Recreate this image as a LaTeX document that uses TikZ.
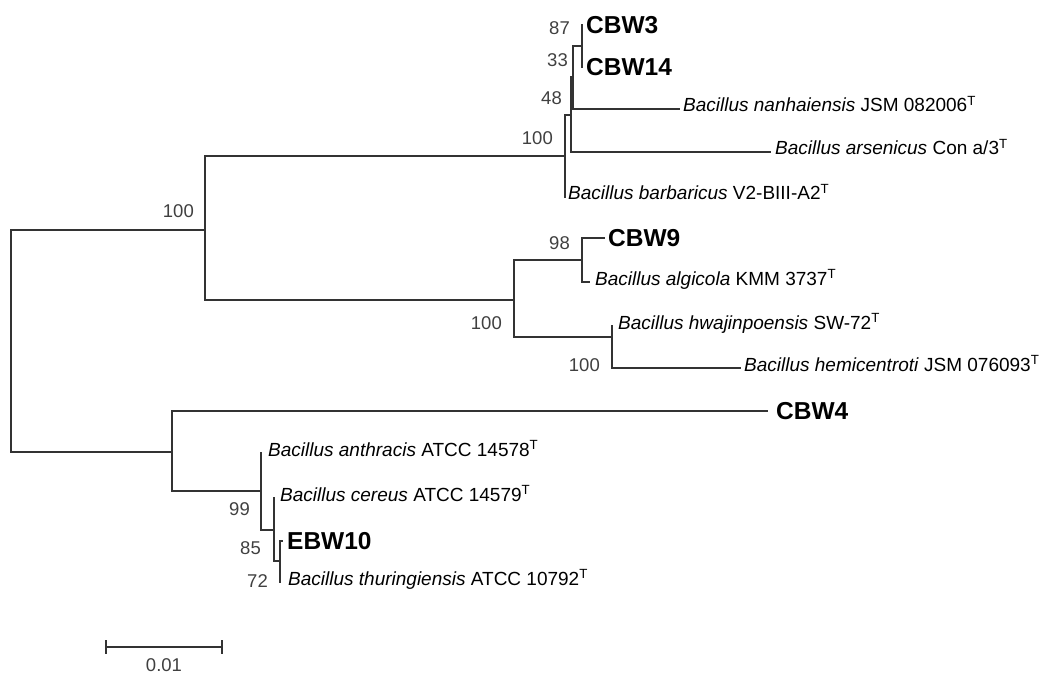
\documentclass[tikz,border=0pt]{standalone}
\usepackage{fontspec}
\setmainfont{Liberation Sans}
\usetikzlibrary{positioning}

\begin{document}
\begin{tikzpicture}[
  x=1pt, y=-1pt,
  branch/.style={draw=black!80, line width=1.2pt},
  taxon/.style={font=\fontsize{19}{21}\selectfont, inner sep=0pt,
    anchor=base west, yshift=-3pt},
  isolate/.style={font=\fontsize{24.5}{27}\selectfont\bfseries, inner sep=0pt,
    anchor=west},
  boot/.style={font=\fontsize{18.5}{20}\selectfont, text=black!75,
    inner sep=0pt, anchor=east},
]
  \useasboundingbox (0,0) rectangle (1047,674);

  % internal nodes
  \coordinate (root) at (11,341);
  \coordinate (nE) at (205,230);
  \coordinate (nA) at (565,156);
  \coordinate (nB) at (571,115);
  \coordinate (nC) at (573,77);
  \coordinate (nD) at (582,46);
  \coordinate (nF) at (514,300);
  \coordinate (nH) at (582,260);
  \coordinate (nG) at (612,337);
  \coordinate (nI) at (172,452);
  \coordinate (nJ) at (261,491);
  \coordinate (nK) at (274,530);
  \coordinate (nL) at (280,561);

  % leaf ends
  \coordinate (lCBW3) at (583,25);
  \coordinate (lCBW14) at (583,67);
  \coordinate (lNan) at (680,109);
  \coordinate (lArs) at (771,152);
  \coordinate (lBar) at (566,197);
  \coordinate (lCBW9) at (605,238);
  \coordinate (lAlg) at (590,282);
  \coordinate (lHwa) at (613,326);
  \coordinate (lHem) at (741,368);
  \coordinate (lCBW4) at (768,411);
  \coordinate (lAnt) at (262,453);
  \coordinate (lCer) at (275,498);
  \coordinate (lEBW) at (283,541);
  \coordinate (lThu) at (281,582);

  % branches
  \draw[branch] (root) |- (nE);
  \draw[branch] (root) |- (nI);
  \draw[branch] (nE) |- (nA);
  \draw[branch] (nE) |- (nF);
  \draw[branch] (nA) |- (nB);
  \draw[branch] (nA) |- (lBar);
  \draw[branch] (nB) |- (nC);
  \draw[branch] (nB) |- (lArs);
  \draw[branch] (nC) |- (nD);
  \draw[branch] (nC) |- (lNan);
  \draw[branch] (nD) |- (lCBW3);
  \draw[branch] (nD) |- (lCBW14);
  \draw[branch] (nF) |- (nH);
  \draw[branch] (nF) |- (nG);
  \draw[branch] (nH) |- (lCBW9);
  \draw[branch] (nH) |- (lAlg);
  \draw[branch] (nG) |- (lHwa);
  \draw[branch] (nG) |- (lHem);
  \draw[branch] (nI) |- (lCBW4);
  \draw[branch] (nI) |- (nJ);
  \draw[branch] (nJ) |- (lAnt);
  \draw[branch] (nJ) |- (nK);
  \draw[branch] (nK) |- (lCer);
  \draw[branch] (nK) |- (nL);
  \draw[branch] (nL) |- (lEBW);
  \draw[branch] (nL) |- (lThu);

  % taxa
  \node[right=3pt of lCBW3, isolate] (tCBW3) {CBW3};
  \node[right=3pt of lCBW14, isolate] (tCBW14) {CBW14};
  \node[right=3pt of lNan, taxon] (tNan) {\textit{Bacillus nanhaiensis} JSM 082006\textsuperscript{T}};
  \node[right=4pt of lArs, taxon] (tArs) {\textit{Bacillus arsenicus} Con a/3\textsuperscript{T}};
  \node[right=2pt of lBar, taxon] (tBar) {\textit{Bacillus barbaricus} V2-BIII-A2\textsuperscript{T}};
  \node[right=3pt of lCBW9, isolate] (tCBW9) {CBW9};
  \node[right=5pt of lAlg, taxon] (tAlg) {\textit{Bacillus algicola} KMM 3737\textsuperscript{T}};
  \node[right=5pt of lHwa, taxon] (tHwa) {\textit{Bacillus hwajinpoensis} SW-72\textsuperscript{T}};
  \node[right=3pt of lHem, taxon] (tHem) {\textit{Bacillus hemicentroti} JSM 076093\textsuperscript{T}};
  \node[right=8pt of lCBW4, isolate] (tCBW4) {CBW4};
  \node[right=6pt of lAnt, taxon] (tAnt) {\textit{Bacillus anthracis} ATCC 14578\textsuperscript{T}};
  \node[right=5pt of lCer, taxon] (tCer) {\textit{Bacillus cereus} ATCC 14579\textsuperscript{T}};
  \node[right=4pt of lEBW, isolate] (tEBW) {EBW10};
  \node[right=7pt of lThu, taxon] (tThu) {\textit{Bacillus thuringiensis} ATCC 10792\textsuperscript{T}};

  % bootstrap values
  \foreach \n/\v/\dx/\dy in {nE/100/-11/-19, nA/100/-12/-18, nB/48/-9/-17,
      nC/33/-5/-17, nD/87/-12/-18, nH/98/-12/-17, nF/100/-12/23,
      nG/100/-12/28, nJ/99/-11/18, nK/85/-13/18, nL/72/-12/20}
    \node[boot] at ([shift={(\dx,\dy)}]\n) {\v};

  % scale bar
  \coordinate (sbL) at (106,647);
  \coordinate (sbR) at (222,647);
  \coordinate (sbM) at (164,647);
  \draw[branch] (sbL) -- (sbR);
  \draw[branch] ([yshift=7pt]sbL) -- ([yshift=-7pt]sbL);
  \draw[branch] ([yshift=7pt]sbR) -- ([yshift=-7pt]sbR);
  \node[below=11pt of sbM, boot, anchor=north] (sbText) {0.01};
\end{tikzpicture}
\end{document}
